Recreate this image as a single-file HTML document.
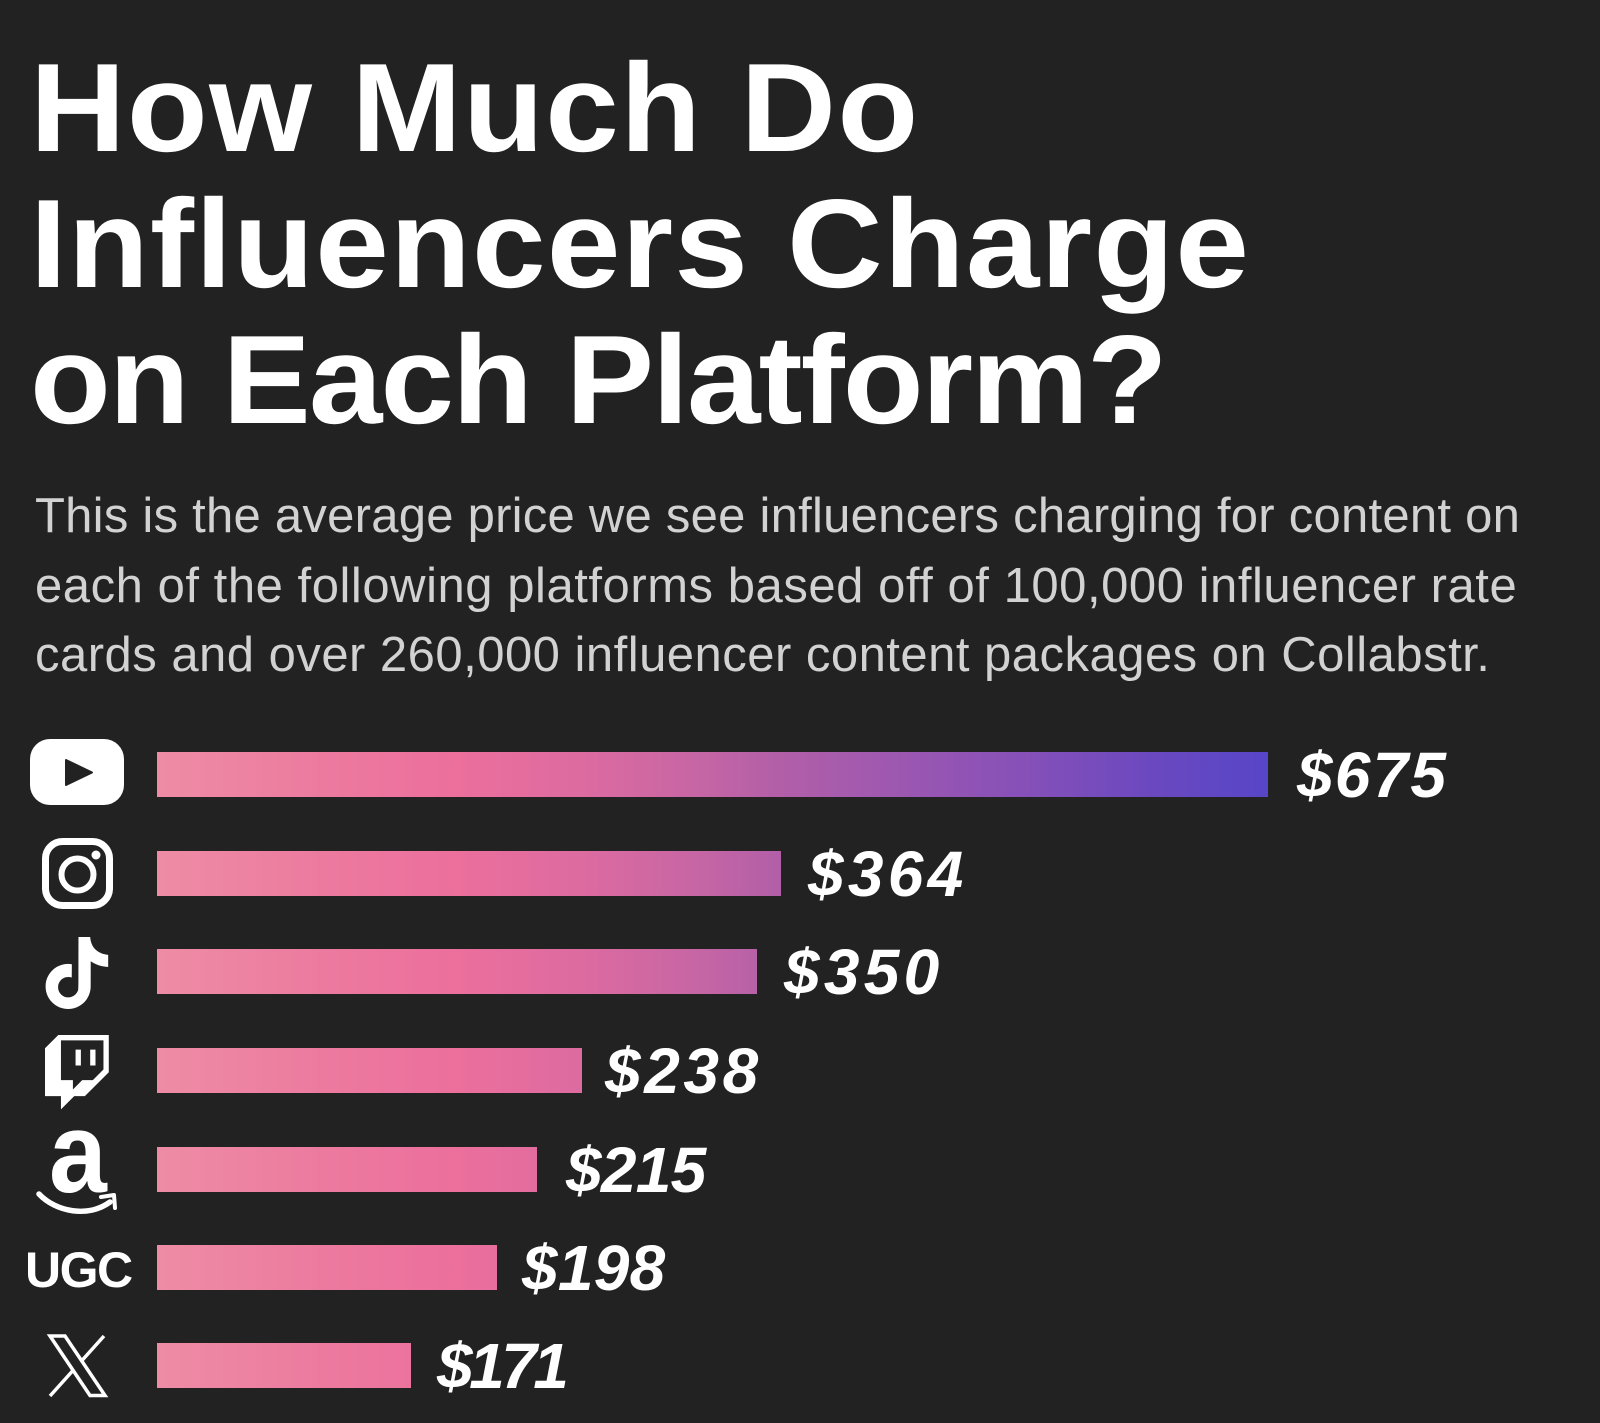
<!DOCTYPE html>
<html>
<head>
<meta charset="utf-8">
<style>
  html, body { margin:0; padding:0; }
  body { width:1600px; height:1423px; background:#222222; position:relative; overflow:hidden; font-family:"Liberation Sans", Arial, sans-serif; }
  .t { position:absolute; left:30px; color:#fff; font-weight:bold; font-size:126px; line-height:126px; white-space:nowrap; transform:scaleX(1.05); transform-origin:0 0; }
  .s { position:absolute; left:35px; color:#d2d2d2; font-size:49px; line-height:49px; white-space:nowrap; }
  .bar { position:absolute; left:157px; height:45px;
    background-image: linear-gradient(90deg, #ee8ca5 0%, #ec7a9f 15%, #ec6f9c 27%, #dd6ba0 38%, #c866a4 48%, #b25fa8 56%, #9e58b0 66%, #8650b8 78%, #6a48c0 90%, #5746c8 100%);
    background-size:1111px 45px; background-repeat:no-repeat; }
  .v { position:absolute; color:#fff; font-weight:bold; font-style:italic; font-size:64px; line-height:64px; white-space:nowrap; }
  .ugc { position:absolute; left:25px; top:1245px; color:#fff; font-weight:bold; font-size:50px; line-height:50px; letter-spacing:-1.5px; }
</style>
</head>
<body>
  <div class="t" style="top:45px; letter-spacing:1.3px;">How Much Do</div>
  <div class="t" style="top:181px; letter-spacing:1.15px;">Influencers Charge</div>
  <div class="t" style="top:317px; letter-spacing:-1.85px;">on Each Platform?</div>

  <div class="s" style="top:492px; letter-spacing:0.25px;">This is the average price we see influencers charging for content on</div>
  <div class="s" style="top:562px; letter-spacing:0.54px;">each of the following platforms based off of 100,000 influencer rate</div>
  <div class="s" style="top:631px; letter-spacing:0.48px;">cards and over 260,000 influencer content packages on Collabstr.</div>

  <div class="bar" style="top:752px; width:1111px;"></div>
  <div class="bar" style="top:851px; width:624px;"></div>
  <div class="bar" style="top:949px; width:600px;"></div>
  <div class="bar" style="top:1048px; width:425px;"></div>
  <div class="bar" style="top:1147px; width:380px;"></div>
  <div class="bar" style="top:1245px; width:340px;"></div>
  <div class="bar" style="top:1343px; width:254px;"></div>

  <div class="v" style="left:1297px; top:743px; letter-spacing:2.2px;">$675</div>
  <div class="v" style="left:808px; top:842px; letter-spacing:4.3px;">$364</div>
  <div class="v" style="left:784px; top:940px; letter-spacing:4.3px;">$350</div>
  <div class="v" style="left:605px; top:1039px; letter-spacing:3.6px;">$238</div>
  <div class="v" style="left:566px; top:1138px; letter-spacing:-0.7px;">$215</div>
  <div class="v" style="left:522px; top:1236px; letter-spacing:0.3px;">$198</div>
  <div class="v" style="left:437px; top:1334px; letter-spacing:-3.5px;">$171</div>

  <div class="ugc">UGC</div>

  <svg width="1600" height="1423" viewBox="0 0 1600 1423" style="position:absolute; left:0; top:0;" xmlns="http://www.w3.org/2000/svg">
    <!-- YouTube -->
    <rect x="30" y="739" width="94" height="66" rx="20" ry="20" fill="#ffffff"/>
    <path d="M66,760 L92,772.5 L66,785 Z" fill="#222222" stroke="#222222" stroke-width="2" stroke-linejoin="round"/>
    <!-- Instagram -->
    <rect x="45.5" y="841.5" width="64" height="64" rx="17" ry="17" fill="none" stroke="#ffffff" stroke-width="7"/>
    <circle cx="77.5" cy="874.5" r="16" fill="none" stroke="#ffffff" stroke-width="6"/>
    <circle cx="96" cy="855" r="4.5" fill="#ffffff"/>
    <!-- TikTok -->
    <g transform="translate(40.9,937) scale(3)">
      <path fill="#ffffff" d="M12.525.02c1.31-.02 2.61-.01 3.91-.02.08 1.53.63 3.09 1.75 4.17 1.12 1.11 2.7 1.62 4.24 1.79v4.03c-1.440-.05-2.89-.35-4.2-.97-.57-.26-1.1-.59-1.62-.93-.01 2.92.01 5.84-.02 8.75-.08 1.4-.54 2.79-1.35 3.94-1.31 1.92-3.58 3.17-5.91 3.21-1.43.08-2.86-.31-4.08-1.03-2.02-1.19-3.44-3.37-3.65-5.71-.02-.5-.03-1-.01-1.49.18-1.9 1.12-3.72 2.58-4.96 1.66-1.44 3.98-2.13 6.150-1.72.02 1.48-.04 2.96-.04 4.44-.99-.32-2.15-.23-3.02.37-.63.41-1.11 1.04-1.36 1.750-.21.51-.15 1.07-.14 1.61.24 1.64 1.82 3.02 3.5 2.87 1.12-.01 2.19-.66 2.77-1.61.19-.33.4-.67.41-1.06.1-1.79.06-3.57.07-5.36.01-4.03-.01-8.05.02-12.07z"/>
    </g>
    <!-- Twitch -->
    <g transform="translate(39.7,1035) scale(3.1)">
      <path fill="#ffffff" fill-rule="evenodd" d="M11.571 4.714h1.715v5.143H11.57zm4.715 0H18v5.143h-1.714zM6 0L1.714 4.286v15.428h5.143V24l4.286-4.286h3.428L22.286 12V0zm14.571 11.143l-3.428 3.428h-3.429l-3 3v-3H6.857V1.714h13.714Z"/>
    </g>
    <!-- Amazon -->
    <text x="49" y="1192" font-family="Liberation Sans, Arial, sans-serif" font-weight="bold" font-size="104" fill="#ffffff" transform="translate(0,-119) scale(1,1.1)">a</text>
    <path d="M39,1194 C56,1212 88,1218 110,1202" fill="none" stroke="#ffffff" stroke-width="5.5" stroke-linecap="round"/>
    <path d="M101,1197 L114,1195 L115,1208" fill="none" stroke="#ffffff" stroke-width="4" stroke-linecap="round" stroke-linejoin="round"/>
    <!-- X -->
    <line x1="104" y1="1336" x2="50" y2="1396" stroke="#ffffff" stroke-width="3.5"/>
    <path d="M50,1336 L65,1336 L105,1395.5 L90,1395.5 Z" fill="#222222" stroke="#ffffff" stroke-width="3.5" stroke-linejoin="miter"/>
  </svg>
</body>
</html>
